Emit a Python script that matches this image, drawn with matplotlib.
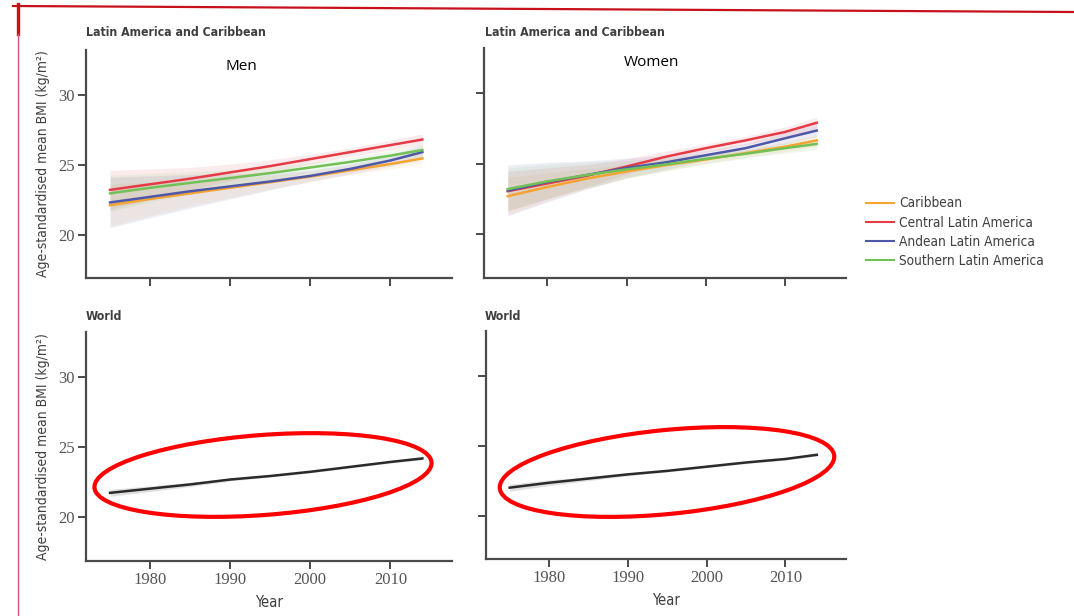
import matplotlib
matplotlib.use("Agg")
import matplotlib.pyplot as plt
from matplotlib.patches import Ellipse
from matplotlib.lines import Line2D
from matplotlib.transforms import IdentityTransform
from matplotlib import font_manager
import numpy as np

# ---------------- data ----------------
years = [1975, 1980, 1985, 1990, 1995, 2000, 2005, 2010, 2014]
regions = ["Caribbean", "Central Latin America", "Andean Latin America", "Southern Latin America"]
colors = ["#f5a331", "#e63b46", "#4f57a9", "#72c157"]

men_caribbean = [22.1, 22.55, 22.95, 23.35, 23.75, 24.15, 24.6, 25.05, 25.45]
men_central = [23.2, 23.6, 24.0, 24.45, 24.9, 25.4, 25.9, 26.4, 26.8]
men_andean = [22.3, 22.7, 23.1, 23.45, 23.8, 24.2, 24.7, 25.3, 25.9]
men_southern = [22.95, 23.35, 23.7, 24.05, 24.4, 24.8, 25.2, 25.65, 26.05]

women_caribbean = [22.7, 23.35, 23.95, 24.45, 24.9, 25.3, 25.75, 26.2, 26.65]
women_central = [23.05, 23.6, 24.15, 24.8, 25.5, 26.1, 26.65, 27.25, 27.9]
women_andean = [23.1, 23.7, 24.2, 24.7, 25.1, 25.6, 26.1, 26.8, 27.35]
women_southern = [23.2, 23.75, 24.2, 24.6, 24.95, 25.35, 25.7, 26.1, 26.4]

# half-width of uncertainty bands
men_ci = [[1.5, 1.2, 0.9, 0.7, 0.5, 0.35, 0.3, 0.35, 0.4],
          [1.4, 1.1, 0.8, 0.6, 0.45, 0.35, 0.3, 0.35, 0.4],
          [1.8, 1.5, 1.2, 0.9, 0.6, 0.4, 0.35, 0.4, 0.5],
          [1.3, 1.0, 0.8, 0.6, 0.45, 0.35, 0.3, 0.35, 0.4]]
women_ci = [[1.3, 1.0, 0.7, 0.5, 0.4, 0.3, 0.3, 0.35, 0.4],
            [1.4, 1.1, 0.8, 0.55, 0.4, 0.3, 0.3, 0.35, 0.4],
            [1.8, 1.4, 1.0, 0.7, 0.5, 0.35, 0.35, 0.4, 0.45],
            [1.5, 1.2, 0.9, 0.6, 0.45, 0.35, 0.3, 0.35, 0.4]]

world_men = [21.75, 22.05, 22.35, 22.7, 22.95, 23.25, 23.6, 23.95, 24.2]
world_women = [22.0, 22.35, 22.65, 22.95, 23.2, 23.5, 23.8, 24.05, 24.35]
world_ci = [0.25, 0.2, 0.15, 0.1, 0.08, 0.08, 0.08, 0.08, 0.1]

xticks = [1980, 1990, 2000, 2010]
yticks = [20, 25, 30]

# ---------------- figure ----------------
W, H = 1074, 616
fig = plt.figure(figsize=(W / 100, H / 100), dpi=100)
fig.patch.set_facecolor("white")

narrow = ["DejaVu Sans"]
serif = ["Liberation Serif", "DejaVu Serif"]
axis_col = "#4a4a4a"
text_col = "#3f3f3f"


def nfont(size, weight="normal"):
    return font_manager.FontProperties(family=narrow, stretch="condensed", size=size, weight=weight)


def px_axes(left, top, right, bottom):
    return fig.add_axes([left / W, 1 - bottom / H, (right - left) / W, (bottom - top) / H])


ax_tl = px_axes(86, 50, 452, 278)
ax_tr = px_axes(484, 48, 846, 278)
ax_bl = px_axes(86, 332, 452, 561)
ax_br = px_axes(486, 331, 846, 559)

for ax in (ax_tl, ax_tr, ax_bl, ax_br):
    ax.set_xlim(1972, 2017.7)
    ax.set_ylim(16.9, 33.2)
    for s in ("top", "right"):
        ax.spines[s].set_visible(False)
    for s in ("left", "bottom"):
        ax.spines[s].set_color(axis_col)
        ax.spines[s].set_linewidth(1.6)
    ax.set_xticks(xticks)
    ax.set_yticks(yticks)
    ax.tick_params(direction="out", length=6, width=1.4, color=axis_col,
                   labelcolor="#555555", labelsize=12, pad=2)
    for lab in ax.get_xticklabels() + ax.get_yticklabels():
        lab.set_family(serif)

ax_tl.tick_params(labelbottom=False)
ax_tr.tick_params(labelbottom=False, labelleft=False)
ax_br.tick_params(labelleft=False)

men = [men_caribbean, men_central, men_andean, men_southern]
women = [women_caribbean, women_central, women_andean, women_southern]

for ax, series, cis in ((ax_tl, men, men_ci), (ax_tr, women, women_ci)):
    for vals, ci, c in zip(series, cis, colors):
        v = np.array(vals)
        e = np.array(ci)
        ax.fill_between(years, v - e, v + e, color=c, alpha=0.10, lw=0)
    for vals, c, name in zip(series, colors, regions):
        ax.plot(years, vals, color=c, lw=1.8, label=name)

for ax, vals in ((ax_bl, world_men), (ax_br, world_women)):
    v = np.array(vals)
    e = np.array(world_ci)
    ax.fill_between(years, v - e, v + e, color="#999999", alpha=0.3, lw=0)
    ax.plot(years, vals, color="#2a2a2a", lw=1.8)

ylab = "Age-standardised mean BMI (kg/m\u00b2)"
for ax in (ax_tl, ax_bl):
    ax.set_ylabel(ylab, fontproperties=nfont(10), color=text_col, labelpad=6)
for ax in (ax_bl, ax_br):
    ax.set_xlabel("Year", fontproperties=nfont(10.5), color=text_col, labelpad=5)

# panel titles
for x, y, s in ((86, 33, "Latin America and Caribbean"), (485, 33, "Latin America and Caribbean"),
                (86, 317, "World"), (485, 316, "World")):
    fig.text(x / W, 1 - y / H, s, fontproperties=nfont(8.8, "bold"), color=text_col,
             va="center", ha="left")
fig.text(241 / W, 1 - 66 / H, "Men", family=["Open Sans", "DejaVu Sans"], fontsize=11,
         color="black", va="center", ha="center")
fig.text(651 / W, 1 - 63 / H, "Women", family=["Open Sans", "DejaVu Sans"], fontsize=11,
         color="black", va="center", ha="center")

# legend
handles, labels = ax_tr.get_legend_handles_labels()
leg = fig.legend(handles, labels, loc="upper left", bbox_to_anchor=(861 / W, 1 - 191 / H),
                 frameon=False, prop=nfont(9.8),
                 handlelength=2.0, handletextpad=0.4, labelspacing=0.38, borderaxespad=0)
for t in leg.get_texts():
    t.set_color(text_col)
for h in leg.get_lines():
    h.set_linewidth(1.5)

# red annotation ellipses (figure pixel coordinates)
tr = IdentityTransform()
for cx, cy, w, h, ang in ((263, 475, 338, 80, 4.3), (667, 472, 336, 84, 5.6)):
    fig.patches.append(Ellipse((cx, H - cy), w, h, angle=ang, fill=False,
                               edgecolor="#ff0000", lw=3.0, transform=tr, figure=fig))

# red slide border lines
fig.lines.append(Line2D([13 / W, 1.0], [1 - 6 / H, 1 - 12 / H], transform=fig.transFigure,
                        color="#c8101a", lw=1.6))
fig.lines.append(Line2D([18 / W, 18 / W], [1 - 4 / H, 1 - 34 / H], transform=fig.transFigure,
                        color="#c8101a", lw=2.4))
fig.lines.append(Line2D([18 / W, 18 / W], [1 - 34 / H, 0], transform=fig.transFigure,
                        color="#d9547a", lw=1.0))

fig.savefig("out.png", dpi=100, facecolor="white")
